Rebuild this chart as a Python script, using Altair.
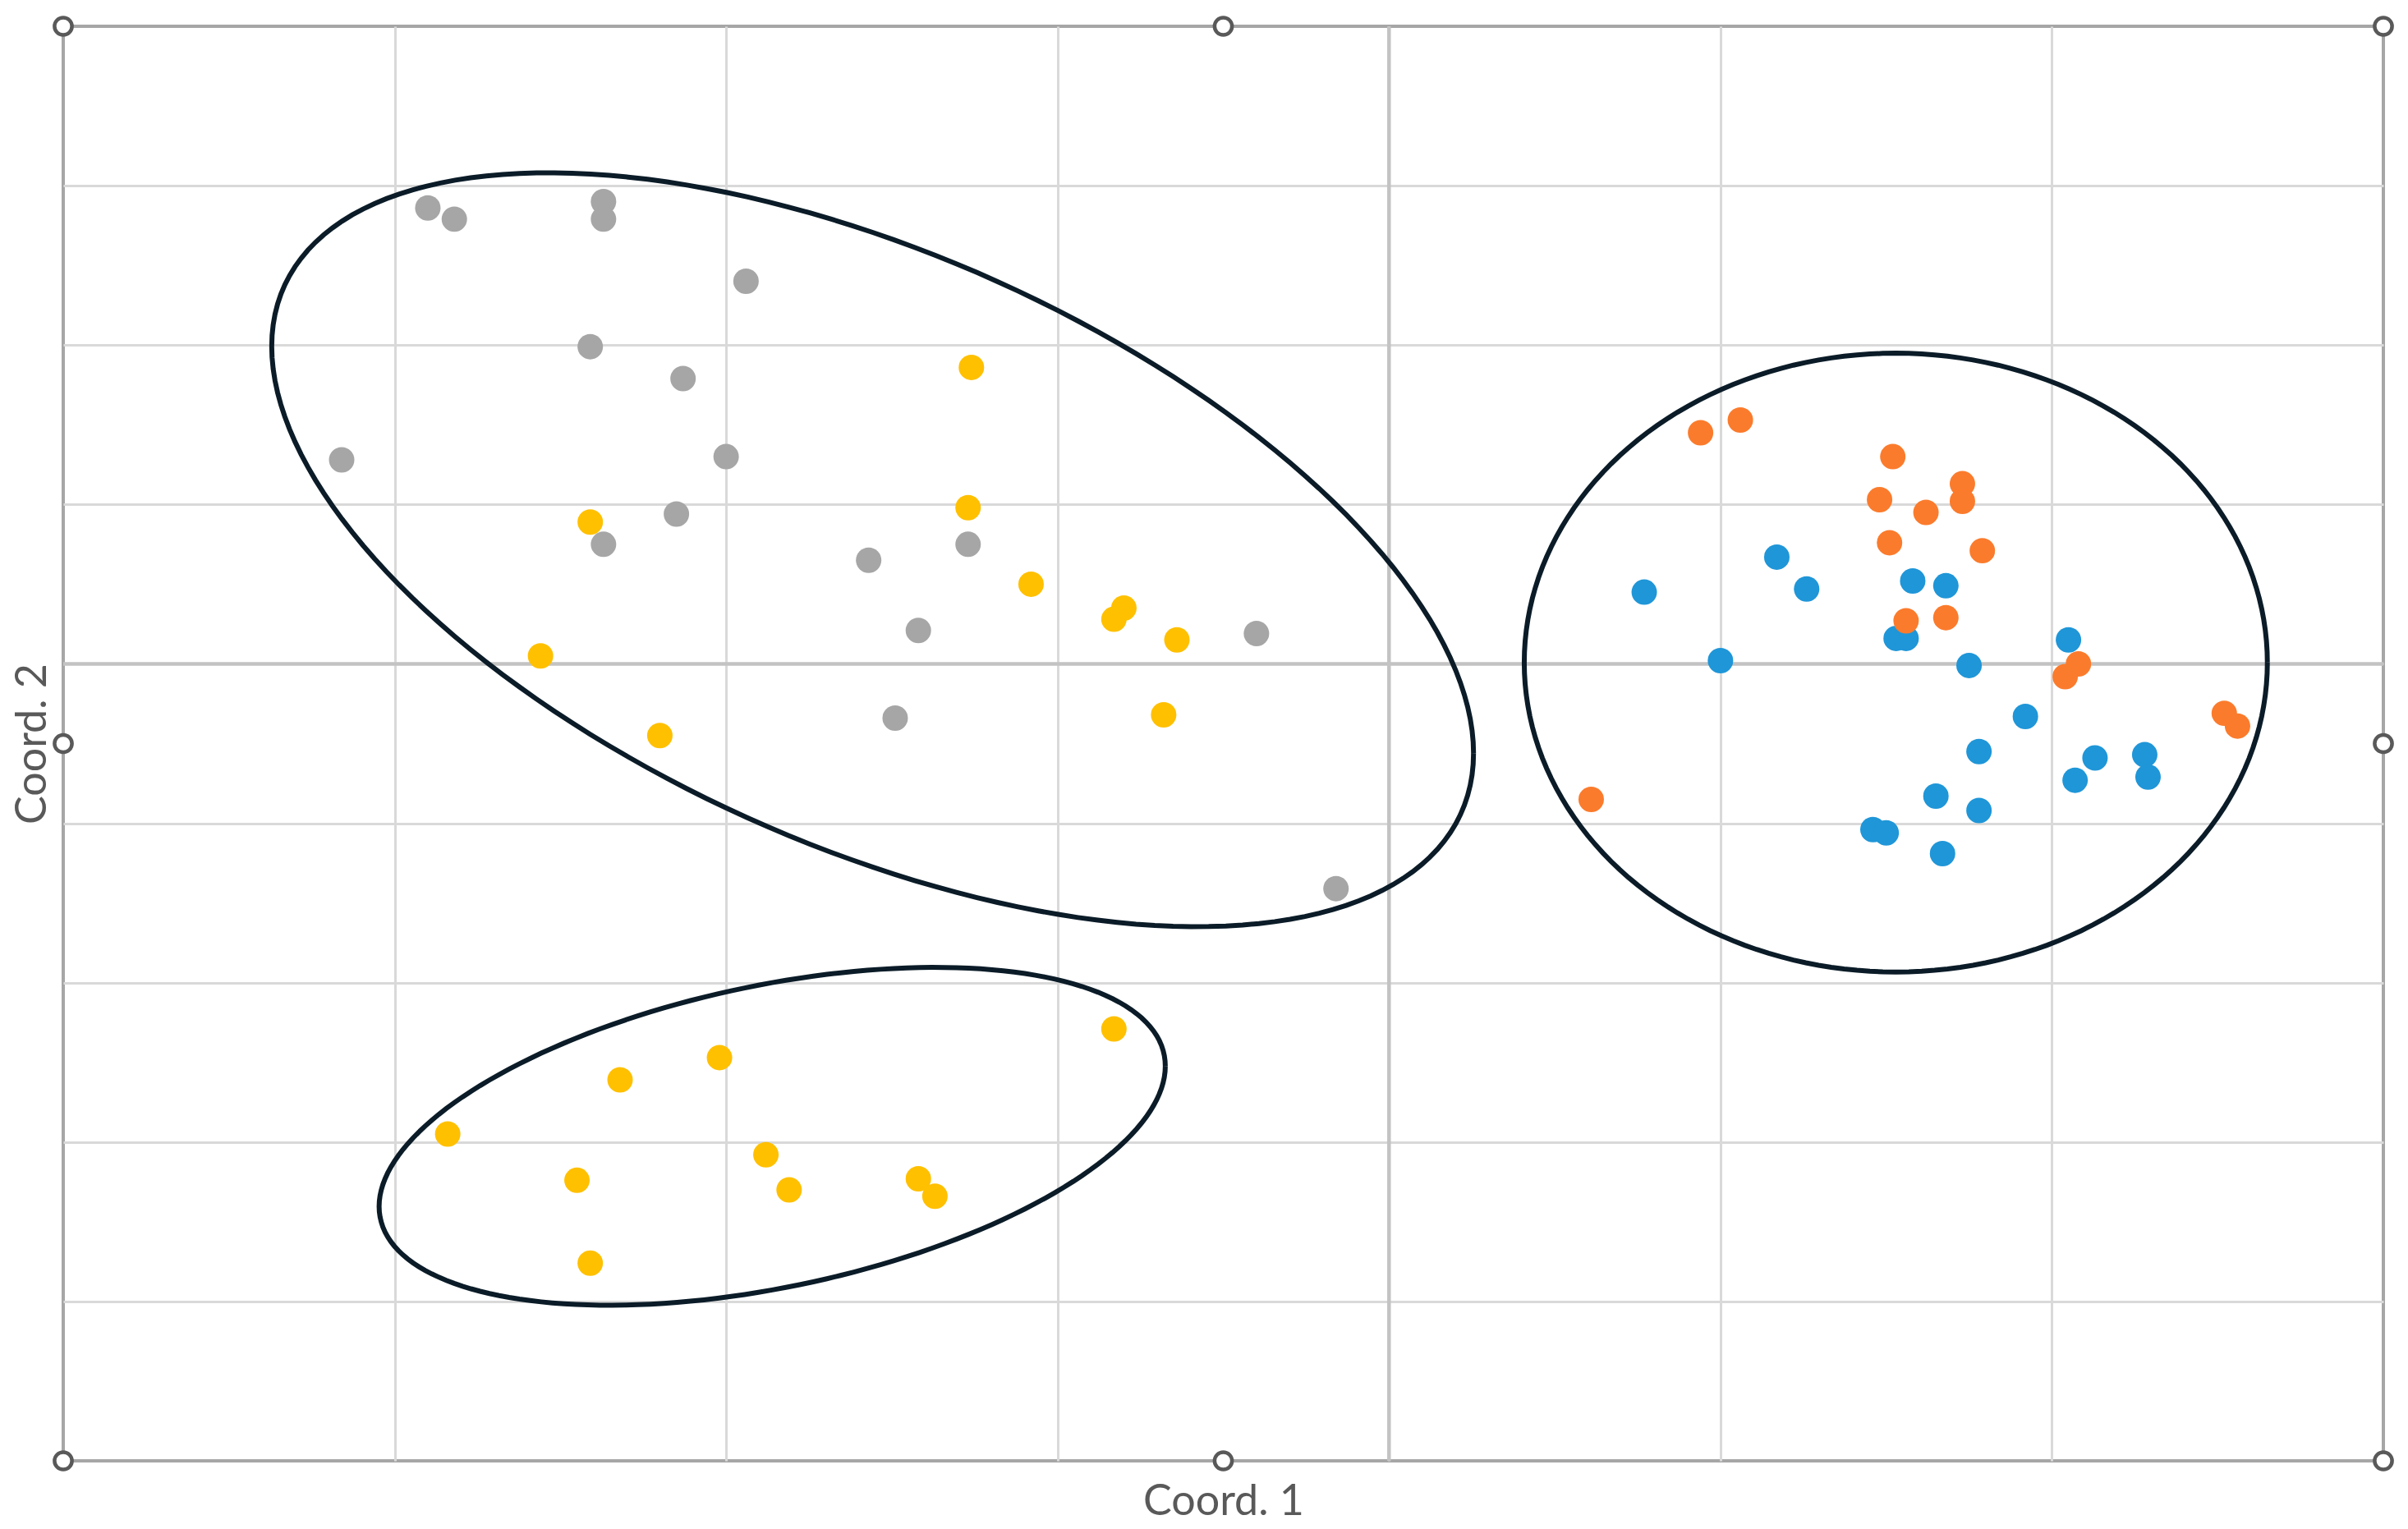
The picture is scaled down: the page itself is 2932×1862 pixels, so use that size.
import altair as alt
import pandas as pd

# ---- data ----
blue_x = [0.77, 1.17, 1.26, 1.58, 1.68, 1.00, 1.53, 1.56, 1.75, 2.05, 1.92, 1.78, 2.13, 2.07, 2.28, 2.29, 1.65, 1.78, 1.46, 1.50, 1.67]
blue_y = [0.45, 0.67, 0.47, 0.52, 0.49, 0.02, 0.16, 0.16, -0.01, 0.15, -0.33, -0.55, -0.59, -0.73, -0.57, -0.71, -0.83, -0.92, -1.04, -1.06, -1.19]

orange_x = [0.94, 1.06, 1.52, 1.73, 1.48, 1.62, 1.73, 1.51, 1.79, 1.56, 1.68, 2.08, 2.04, 0.61, 2.52, 2.56]
orange_y = [1.45, 1.53, 1.30, 1.13, 1.03, 0.95, 1.02, 0.76, 0.71, 0.27, 0.29, 0.00, -0.08, -0.85, -0.31, -0.39]

gray_x = [-2.90, -2.82, -2.37, -2.37, -1.94, -2.41, -2.13, -3.16, -2.00, -2.15, -2.37, -1.57, -1.27, -1.42, -1.49, -0.40, -0.16]
gray_y = [2.86, 2.79, 2.90, 2.79, 2.40, 1.99, 1.79, 1.28, 1.30, 0.94, 0.75, 0.65, 0.75, 0.21, -0.34, 0.19, -1.41]

yellow_x = [-1.26, -2.41, -1.27, -1.08, -0.83, -0.80, -0.64, -2.56, -2.20, -0.68,
            -0.83, -2.02, -2.32, -2.84, -1.88, -2.45, -1.81, -1.42, -1.37, -2.41]
yellow_y = [1.86, 0.89, 0.98, 0.50, 0.28, 0.35, 0.15, 0.05, -0.45, -0.32,
            -2.29, -2.47, -2.61, -2.95, -3.08, -3.24, -3.30, -3.23, -3.34, -3.76]

series_names = ["Series1", "Series2", "Series3", "Series4"]
series_colors = ["#1f96d8", "#fb7b2c", "#a6a6a6", "#ffc000"]

# ellipses: x = cx + px*cos(t); y = cy + ry*cos(t) + sy*sin(t)
ell_cx = [-1.558, -1.861, 1.529]
ell_cy = [0.716, -2.964, 0.008]
ell_px = [1.813, 1.186, 1.121]
ell_ry = [-1.276, 0.440, 0.0]
ell_sy = [1.991, 0.964, 1.941]

# selection handles at the chart-area corners and edge midpoints
handle_x = [-4, -0.5, 3, -4, 3, -4, -0.5, 3]
handle_y = [4, 4, 4, -0.5, -0.5, -5, -5, -5]

x_domain = [-4, 3]
y_domain = [-5, 4]
x_grid = [-3, -2, -1, 0, 1, 2]
y_grid = [-4, -3, -2, -1, 0, 1, 2, 3]

FONT = "Lato"
TITLE_COLOR = "#595959"


def X(field):
    return alt.X(field, type="quantitative",
                 scale=alt.Scale(domain=x_domain, nice=False, zero=False),
                 axis=alt.Axis(values=x_grid, labels=False, ticks=False, domain=False,
                               grid=True, title="Coord. 1", titleFont=FONT,
                               titleFontSize=52, titleFontWeight="normal",
                               titleColor=TITLE_COLOR, titlePadding=24))


def Y(field):
    return alt.Y(field, type="quantitative",
                 scale=alt.Scale(domain=y_domain, nice=False, zero=False),
                 axis=alt.Axis(values=y_grid, labels=False, ticks=False, domain=False,
                               grid=True, title="Coord. 2", titleFont=FONT,
                               titleFontSize=52, titleFontWeight="normal",
                               titleColor=TITLE_COLOR, titlePadding=11))


frames = []
for name, xs, ys in zip(series_names,
                        [blue_x, orange_x, gray_x, yellow_x],
                        [blue_y, orange_y, gray_y, yellow_y]):
    frames.append(pd.DataFrame({"x": xs, "y": ys, "series": name}))
pts = pd.concat(frames, ignore_index=True)

zero_x = alt.Chart(pd.DataFrame({"x": [0]})).mark_rule(
    color="#c3c3c3", strokeWidth=4.5).encode(x=X("x"))
zero_y = alt.Chart(pd.DataFrame({"y": [0]})).mark_rule(
    color="#c3c3c3", strokeWidth=4.5).encode(y=Y("y"))

points = alt.Chart(pts).mark_circle(size=960, opacity=1).encode(
    x=X("x"), y=Y("y"),
    color=alt.Color("series:N", scale=alt.Scale(domain=series_names, range=series_colors),
                    legend=None),
)

ellipses = []
for cx, cy, px, ry, sy in zip(ell_cx, ell_cy, ell_px, ell_ry, ell_sy):
    e = alt.Chart(alt.sequence(0, 361, 2, as_="t")).transform_calculate(
        ex=f"{cx} + {px} * cos(datum.t * PI / 180)",
        ey=f"{cy} + {ry} * cos(datum.t * PI / 180) + {sy} * sin(datum.t * PI / 180)",
    ).mark_line(color="#0b1c28", strokeWidth=6).encode(
        x=X("ex"), y=Y("ey"), order="t:Q")
    ellipses.append(e)

handles = alt.Chart(pd.DataFrame({"x": handle_x, "y": handle_y})).mark_point(
    shape="circle", filled=False, fill="white", fillOpacity=1, stroke="#595959",
    strokeWidth=4.5, size=450, opacity=1).encode(x=X("x"), y=Y("y"))

chart = alt.layer(zero_x, zero_y, points, *ellipses, handles).properties(
    width=2825, height=1747,
    autosize=alt.AutoSizeParams(type="none"),
    padding={"left": 69, "top": 24, "right": 22, "bottom": 75},
    background="white",
).configure_view(
    stroke="#a6a6a6", strokeWidth=4,
).configure_axis(
    gridColor="#d9d9d9", gridWidth=3,
)

chart.save("out.html", embed_options={"renderer": "svg", "actions": False})
